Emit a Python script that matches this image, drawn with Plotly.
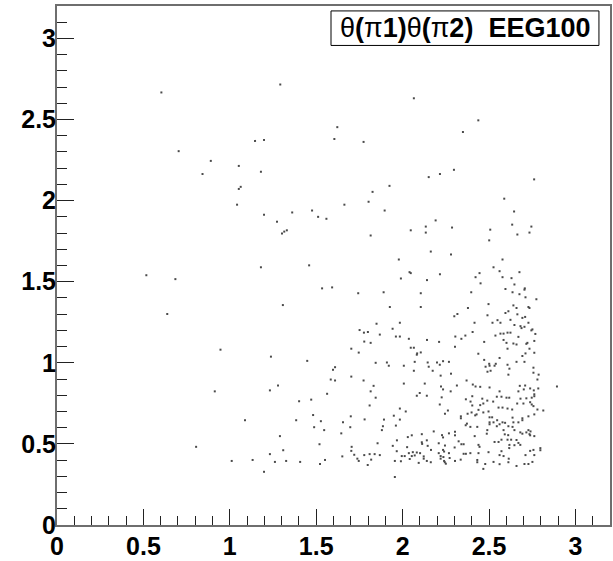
import plotly.graph_objects as go

# Polar angles of the two pions per event (rad), EEG100 sample
theta_pi1 = [
    # sparse upper region
    1.292, 0.604, 1.622, 1.605, 1.146, 1.198, 0.704, 0.890, 1.052, 0.842,
    1.180, 1.063, 1.052, 1.042, 1.198, 1.361, 1.273, 1.476, 1.511, 1.559,
    1.330, 1.315, 1.302,
    2.065, 2.438, 1.774, 2.349, 2.297, 2.216, 2.151, 2.761, 1.924, 1.826,
    1.663, 1.803, 1.896, 2.588, 2.645, 2.191, 2.134, 2.286, 2.047, 2.134,
    1.815, 2.507, 2.634, 2.745, 2.734, 2.664, 2.501, 2.163, 2.280,
    # lower left
    0.517, 0.685, 1.180, 1.459, 1.534, 1.592, 1.743, 0.638, 1.307, 0.946,
    1.238, 1.448, 0.913, 1.232, 1.279, 1.401, 1.471, 1.563, 1.584, 1.609,
    1.597, 1.609, 1.703, 1.774, 1.703, 1.746, 1.751, 1.776, 1.799, 1.778,
    1.815, 1.849, 1.844, 1.832, 1.815, 1.844, 1.809, 1.780, 1.700, 1.697,
    1.655, 1.645, 1.546, 1.527, 1.482, 1.488, 1.384, 1.088, 1.290, 1.519,
    0.805, 1.309, 1.232, 1.011, 1.132, 1.261, 1.326, 1.407, 1.198, 1.522,
    1.551, 1.651, 1.705, 1.703, 1.720, 1.738, 1.746, 1.778, 1.798, 1.809,
    1.818, 1.838, 1.855,
    # central band, upper half
    1.978, 2.040, 2.047, 2.216, 1.990, 2.141, 1.890, 2.105, 1.926, 2.105,
    2.378, 2.317, 2.299, 1.984, 1.942, 1.868, 1.961, 1.984, 2.036, 2.141,
    2.211, 2.305, 2.340, 2.363, 2.303, 2.047, 2.065, 2.105, 2.084, 2.082,
    1.909, 2.070, 2.145, 2.199, 2.234, 2.268,
    # right band, upper half
    2.578, 2.526, 2.445, 2.561, 2.676, 2.422, 2.578, 2.630, 2.451, 2.647,
    2.595, 2.707, 2.705, 2.397, 2.636, 2.676, 2.711, 2.774, 2.497, 2.641,
    2.659, 2.728, 2.734, 2.612, 2.595, 2.664, 2.491, 2.709, 2.693, 2.549,
    2.624, 2.416, 2.520, 2.566, 2.728, 2.647, 2.682, 2.705, 2.688, 2.751,
    2.745, 2.405, 2.566, 2.584, 2.607, 2.624, 2.768, 2.537, 2.670, 2.584,
    2.762, 2.472, 2.601, 2.641, 2.722, 2.659, 2.716, 2.607, 2.734, 2.438,
    2.711, 2.762, 2.693, 2.561, 2.472, 2.659, 2.705, 2.501, 2.539,
    # central band, lower half
    1.920, 2.007, 2.151, 2.215, 2.065, 2.174, 2.280, 2.220, 2.370, 2.007,
    2.128, 2.222, 2.314, 2.234, 2.278, 2.099, 2.082, 2.140, 2.226, 2.366,
    2.215, 1.984, 2.018, 2.262, 2.245, 2.376, 1.949, 2.337, 2.337, 1.892,
    1.984, 2.372, 1.886, 1.961, 2.365, 1.880, 2.180, 2.303, 2.268, 2.053,
    2.111, 2.228, 2.303, 2.030, 2.234, 1.967, 2.140, 2.324, 2.111, 2.113,
    2.209, 2.245, 1.943, 2.026, 2.145, 2.340, 2.353, 2.301, 2.164, 1.966,
    2.059, 2.082, 2.101, 2.036, 2.209, 2.234, 2.240, 2.268, 2.353, 2.366,
    1.868, 1.995, 2.012, 2.053, 2.070, 2.122, 2.220, 2.236, 2.122, 2.220,
    2.272, 1.990, 2.140, 2.093, 2.163, 2.240, 2.244, 2.250, 1.955, 2.303,
    2.336, 2.041, 1.955,
    # right band, lower half
    2.480, 2.503, 2.532, 2.607, 2.491, 2.509, 2.618, 2.757, 2.757, 2.612,
    2.787, 2.780, 2.406, 2.422, 2.449, 2.503, 2.678, 2.709, 2.701, 2.738,
    2.759, 2.785, 2.893, 2.670, 2.561, 2.762, 2.762, 2.403, 2.545, 2.572,
    2.601, 2.617, 2.682, 2.716, 2.747, 2.461, 2.490, 2.393, 2.524, 2.467,
    2.738, 2.663, 2.699, 2.747, 2.403, 2.449, 2.757, 2.555, 2.578, 2.607,
    2.634, 2.439, 2.780, 2.814, 2.399, 2.467, 2.497, 2.428, 2.420, 2.728,
    2.762, 2.503, 2.518, 2.636, 2.693, 2.693, 2.547, 2.503, 2.503, 2.526,
    2.578, 2.593, 2.641, 2.670, 2.561, 2.612, 2.636, 2.545, 2.392, 2.432,
    2.490, 2.584, 2.647, 2.728, 2.740, 2.681, 2.693, 2.716, 2.734, 2.738,
    2.487, 2.591, 2.611, 2.762, 2.417, 2.572, 2.607, 2.628, 2.659, 2.670,
    2.532, 2.555, 2.439, 2.445, 2.618, 2.647, 2.617, 2.681, 2.797, 2.797,
    2.738, 2.757, 2.572, 2.497, 2.392, 2.439, 2.561, 2.584, 2.614, 2.711,
    2.762, 2.432, 2.432, 2.526, 2.478, 2.561, 2.612, 2.659, 2.705, 2.728,
    2.751, 2.467,
]

theta_pi2 = [
    # sparse upper region
    2.716, 2.667, 2.453, 2.380, 2.368, 2.374, 2.305, 2.245, 2.214, 2.164,
    2.178, 2.085, 2.072, 1.975, 1.913, 1.927, 1.870, 1.939, 1.900, 1.888,
    1.817, 1.809, 1.797,
    2.631, 2.495, 2.362, 2.423, 2.190, 2.164, 2.145, 2.131, 2.091, 2.054,
    1.975, 1.993, 1.939, 2.012, 1.933, 1.878, 1.840, 1.834, 1.817, 1.803,
    1.785, 1.821, 1.852, 1.840, 1.803, 1.791, 1.755, 1.686, 1.668,
    # lower left
    1.540, 1.516, 1.589, 1.601, 1.459, 1.465, 1.429, 1.301, 1.356, 1.081,
    1.038, 1.012, 0.824, 0.830, 0.860, 0.763, 0.773, 0.809, 0.897, 0.891,
    0.957, 0.973, 0.915, 0.891, 1.087, 1.063, 1.202, 1.186, 1.190, 1.131,
    1.123, 1.241, 1.000, 0.858, 0.824, 0.785, 0.737, 0.651, 0.670, 0.603,
    0.633, 0.565, 0.585, 0.640, 0.678, 0.603, 0.646, 0.646, 0.548, 0.498,
    0.482, 0.461, 0.437, 0.395, 0.401, 0.389, 0.395, 0.389, 0.328, 0.376,
    0.401, 0.423, 0.482, 0.457, 0.433, 0.409, 0.395, 0.431, 0.370, 0.437,
    0.403, 0.437, 0.504,
    # central band, upper half
    1.637, 1.559, 1.553, 1.546, 1.520, 1.510, 1.435, 1.429, 1.344, 1.344,
    1.338, 1.301, 1.287, 1.247, 1.210, 1.174, 1.162, 1.162, 1.148, 1.141,
    1.129, 1.162, 1.148, 1.168, 1.099, 1.093, 1.093, 1.064, 1.058, 1.050,
    1.002, 1.006, 1.002, 1.002, 1.010, 1.006,
    # right band, upper half
    1.637, 1.589, 1.553, 1.565, 1.559, 1.528, 1.528, 1.522, 1.490, 1.483,
    1.455, 1.459, 1.451, 1.435, 1.435, 1.423, 1.404, 1.392, 1.362, 1.354,
    1.338, 1.344, 1.338, 1.318, 1.307, 1.299, 1.293, 1.283, 1.277, 1.263,
    1.265, 1.247, 1.247, 1.247, 1.247, 1.233, 1.226, 1.222, 1.214, 1.206,
    1.200, 1.190, 1.180, 1.180, 1.186, 1.186, 1.178, 1.168, 1.160, 1.141,
    1.135, 1.129, 1.123, 1.119, 1.123, 1.113, 1.117, 1.087, 1.087, 1.056,
    1.058, 1.062, 1.042, 1.030, 1.018, 1.006, 1.006, 0.994, 0.994,
    # central band, lower half
    0.982, 0.982, 0.976, 0.988, 0.951, 0.951, 0.933, 0.921, 0.891, 0.872,
    0.872, 0.854, 0.860, 0.836, 0.824, 0.814, 0.797, 0.797, 0.787, 0.775,
    0.743, 0.718, 0.700, 0.706, 0.686, 0.686, 0.674, 0.670, 0.658, 0.650,
    0.650, 0.625, 0.609, 0.613, 0.615, 0.585, 0.577, 0.575, 0.565, 0.553,
    0.560, 0.554, 0.553, 0.542, 0.540, 0.522, 0.522, 0.516, 0.510, 0.500,
    0.504, 0.490, 0.488, 0.480, 0.488, 0.498, 0.498, 0.478, 0.463, 0.455,
    0.449, 0.447, 0.443, 0.443, 0.443, 0.463, 0.453, 0.443, 0.439, 0.439,
    0.431, 0.425, 0.425, 0.425, 0.429, 0.423, 0.425, 0.419, 0.409, 0.409,
    0.413, 0.393, 0.395, 0.383, 0.387, 0.395, 0.387, 0.378, 0.395, 0.395,
    0.403, 0.407, 0.296,
    # right band, lower half
    0.976, 0.982, 0.982, 0.988, 0.945, 0.951, 0.964, 0.970, 0.939, 0.927,
    0.927, 0.897, 0.866, 0.854, 0.852, 0.848, 0.858, 0.860, 0.836, 0.842,
    0.830, 0.842, 0.854, 0.824, 0.824, 0.806, 0.794, 0.794, 0.791, 0.791,
    0.785, 0.785, 0.779, 0.781, 0.785, 0.779, 0.767, 0.761, 0.761, 0.749,
    0.757, 0.749, 0.749, 0.743, 0.737, 0.739, 0.733, 0.724, 0.724, 0.718,
    0.712, 0.710, 0.712, 0.706, 0.694, 0.694, 0.700, 0.682, 0.676, 0.670,
    0.682, 0.664, 0.664, 0.662, 0.658, 0.646, 0.646, 0.633, 0.621, 0.633,
    0.633, 0.630, 0.633, 0.633, 0.621, 0.609, 0.605, 0.609, 0.605, 0.605,
    0.585, 0.585, 0.585, 0.585, 0.577, 0.571, 0.563, 0.571, 0.560, 0.553,
    0.563, 0.559, 0.554, 0.548, 0.548, 0.526, 0.526, 0.526, 0.524, 0.506,
    0.512, 0.512, 0.494, 0.482, 0.494, 0.492, 0.474, 0.494, 0.474, 0.461,
    0.457, 0.463, 0.455, 0.449, 0.443, 0.443, 0.431, 0.425, 0.409, 0.431,
    0.431, 0.401, 0.387, 0.389, 0.376, 0.375, 0.387, 0.364, 0.376, 0.376,
    0.389, 0.346,
]

axis_range = [0, 3.2]
tick_vals = [0, 0.5, 1, 1.5, 2, 2.5, 3]
tick_text = ["0", "0.5", "1", "1.5", "2", "2.5", "3"]
title_text = ("θ<b>(</b>π<b>1)</b>θ<b>(</b>π<b>2)</b>"
              "\u00a0\u00a0<b>EEG100</b>")

fig = go.Figure()
fig.add_trace(go.Scatter(
    x=theta_pi1, y=theta_pi2, mode="markers",
    marker=dict(symbol="square", size=2, color="#4a4a4a",
                line=dict(width=0)),
    hoverinfo="skip", showlegend=False,
))

axis_common = dict(
    range=axis_range, tickvals=tick_vals, ticktext=tick_text,
    showgrid=False, zeroline=False,
    showline=True, linecolor="#6e6e6e", linewidth=2, mirror=True,
    ticks="inside", tickcolor="#222222", tickwidth=1,
    tickfont=dict(family="Liberation Sans, Arial, sans-serif", size=25,
                  color="black", weight="bold"),
)

fig.update_xaxes(**axis_common, ticklen=16, ticklabelstandoff=-2,
                 minor=dict(dtick=0.1, tick0=0, ticks="inside", ticklen=9,
                            tickcolor="#222222", tickwidth=1))
fig.update_yaxes(**axis_common, ticklen=17, ticklabelstandoff=-6,
                 minor=dict(dtick=0.1, tick0=0, ticks="inside", ticklen=10,
                            tickcolor="#222222", tickwidth=1))

# stats-style title box in the top right corner
fig.add_shape(type="rect", xref="paper", yref="paper",
              x0=0.4955, x1=0.980, y0=0.924, y1=0.9905,
              line=dict(color="black", width=1), fillcolor="white", layer="above")
fig.add_annotation(xref="paper", yref="paper", x=0.738, y=0.957,
                   xanchor="center", yanchor="middle", showarrow=False,
                   text=title_text,
                   font=dict(family="Liberation Sans, Arial, sans-serif",
                             size=27, color="black"))

fig.update_layout(
    width=613, height=561,
    margin=dict(l=57, r=1, t=6, b=28, pad=0),
    paper_bgcolor="white", plot_bgcolor="white",
)

fig.write_html("out.html")
